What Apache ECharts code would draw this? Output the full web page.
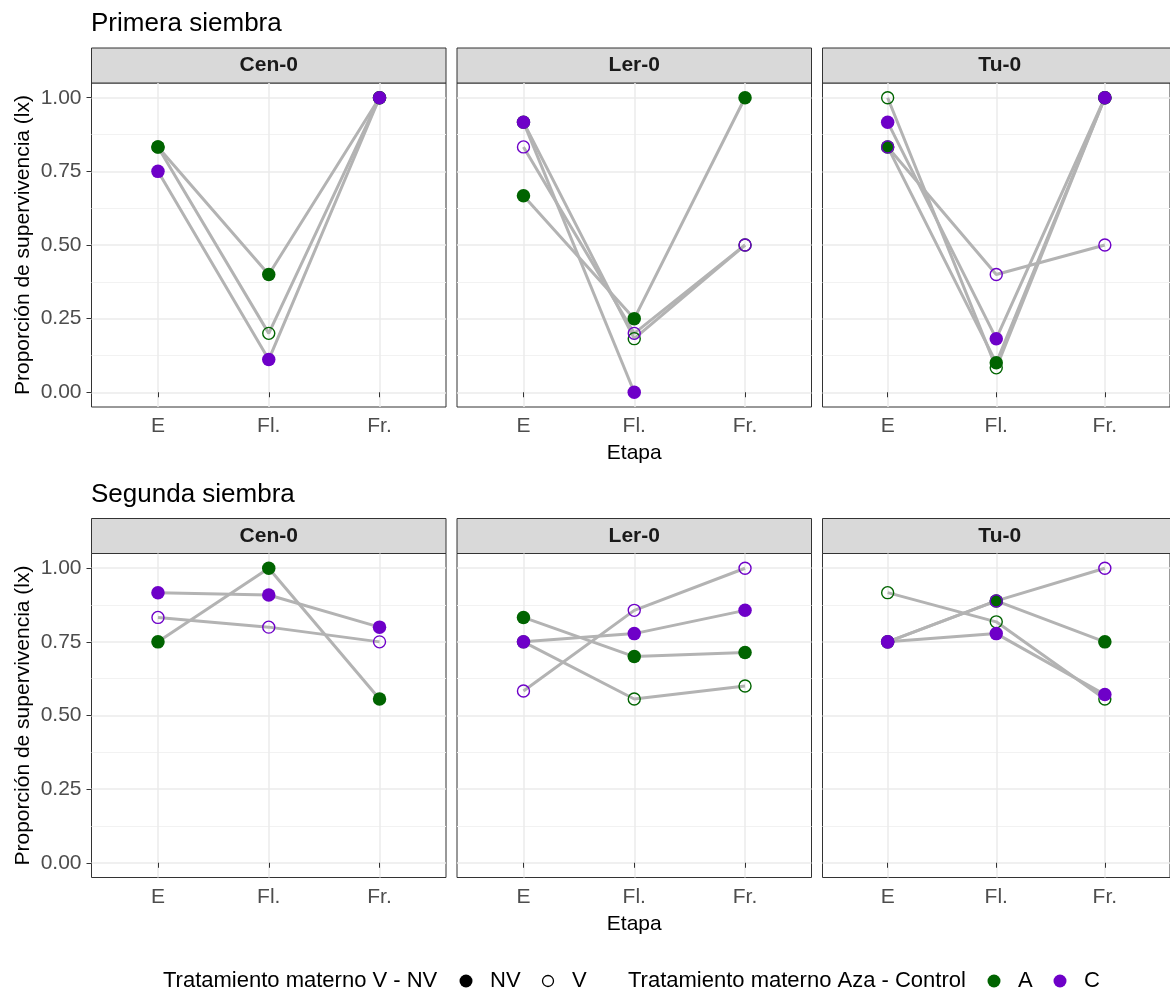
<!DOCTYPE html>
<html>
<head>
<meta charset="utf-8">
<script src="https://cdn.jsdelivr.net/npm/echarts@6/dist/echarts.min.js"></script>
<style>
html, body { margin: 0; padding: 0; background: #fff; }
#chart { width: 1170px; height: 991px; }
</style>
</head>
<body>
<div id="chart"></div>
<script>
// categorias
var etapas = ['E', 'Fl.', 'Fr.'];
var siembras = ['Primera siembra', 'Segunda siembra'];
var ecotipos = ['Cen-0', 'Ler-0', 'Tu-0'];
var grupoAza = ['A', 'A', 'C', 'C'];
var grupoVnv = ['NV', 'V', 'NV', 'V'];
var yTicks = [0, 0.25, 0.5, 0.75, 1];
var yMinor = [0.125, 0.375, 0.625, 0.875];

// proporcion de supervivencia por grupo: A-NV, A-V, C-NV, C-V (E, Fl., Fr.)
var primeraCen0 = [[0.833, 0.4, 1.0], [0.833, 0.2, 1.0], [0.75, 0.111, 1.0], null];
var primeraLer0 = [[0.667, 0.25, 1.0], [0.917, 0.182, 0.5], [0.917, 0.0, null], [0.833, 0.2, 0.5]];
var primeraTu0 = [[0.833, 0.1, 1.0], [1.0, 0.083, 1.0], [0.917, 0.182, 1.0], [0.833, 0.4, 0.5]];
var segundaCen0 = [[0.75, 1.0, 0.556], null, [0.917, 0.909, 0.8], [0.833, 0.8, 0.75]];
var segundaLer0 = [[0.833, 0.7, 0.714], [0.75, 0.556, 0.6], [0.75, 0.778, 0.857], [0.583, 0.857, 1.0]];
var segundaTu0 = [[0.75, 0.889, 0.75], [0.917, 0.818, 0.556], [0.75, 0.778, 0.571], [0.75, 0.889, 1.0]];

var datos = [[primeraCen0, primeraLer0, primeraTu0], [segundaCen0, segundaLer0, segundaTu0]];

var colAza = { A: '#006400', C: '#6e00c8' };
var fuente = 'Liberation Sans, Arial, sans-serif';

var panelLeft = [91.5, 457, 822.5];
var panelTop = [83, 553.5];
var panelW = 354.5, panelH = 324, stripH = 35;

var grids = [], xAxes = [], yAxes = [], lineas = [], puntos = [], graficos = [];

for (var r = 0; r < 2; r++) {
    graficos.push({
        type: 'text', left: 91, top: panelTop[r] - stripH - 37,
        style: { text: siembras[r], font: '26px ' + fuente, fill: '#000' }
    });
    for (var c = 0; c < 3; c++) {
        var k = r * 3 + c;
        grids.push({
            left: panelLeft[c], top: panelTop[r], width: panelW, height: panelH,
            show: true, borderColor: '#333', borderWidth: 1, backgroundColor: '#fff'
        });
        xAxes.push({
            gridIndex: k, type: 'value', min: 0.4, max: 3.6,
            axisLine: { show: false },
            axisTick: { show: true, length: 5, customValues: [1, 2, 3], lineStyle: { color: '#333', width: 1 } },
            axisLabel: {
                customValues: [1, 2, 3], margin: 9, fontSize: 21, color: '#4d4d4d', fontFamily: fuente,
                formatter: function (v) { return etapas[Math.round(v) - 1]; }
            },
            splitLine: { show: true, lineStyle: { color: '#ebebeb', width: 1.5 } },
            name: c === 1 ? 'Etapa' : '', nameLocation: 'middle', nameGap: 36,
            nameTextStyle: { fontSize: 21, color: '#000', fontFamily: fuente }
        });
        yAxes.push({
            gridIndex: k, type: 'value', min: -0.05, max: 1.05,
            axisLine: { show: false },
            axisTick: { show: c === 0, length: 5, customValues: yTicks, lineStyle: { color: '#333', width: 1 } },
            axisLabel: {
                show: c === 0, customValues: yTicks, margin: 10, fontSize: 21, color: '#4d4d4d', fontFamily: fuente,
                formatter: function (v) { return v.toFixed(2); }
            },
            splitLine: { show: true, lineStyle: { color: '#ebebeb', width: 1.5 } },
            name: c === 0 ? 'Proporción de supervivencia (lx)' : '', nameLocation: 'middle', nameGap: 58,
            nameTextStyle: { fontSize: 21, color: '#000', fontFamily: fuente }
        });
        // lineas menores
        yAxes.push({
            gridIndex: k, type: 'value', min: -0.05, max: 1.05, position: 'left',
            axisLine: { show: false },
            axisTick: { show: false, customValues: yMinor },
            axisLabel: { show: false },
            splitLine: { show: true, lineStyle: { color: '#f2f2f2', width: 1 } }
        });

        // tira del panel
        graficos.push({
            type: 'rect', shape: { x: panelLeft[c], y: panelTop[r] - stripH, width: panelW, height: stripH },
            style: { fill: '#d9d9d9', stroke: '#333', lineWidth: 1 }
        });
        graficos.push({
            type: 'text', x: panelLeft[c] + panelW / 2, y: panelTop[r] - stripH / 2,
            style: { text: ecotipos[c], font: 'bold 21px ' + fuente, fill: '#1a1a1a', align: 'center', verticalAlign: 'middle' }
        });

        var panel = datos[r][c];
        for (var g = 0; g < 4; g++) {
            if (!panel[g]) continue;
            var pts = [];
            panel[g].forEach(function (v, i) { if (v !== null) pts.push([i + 1, v]); });
            lineas.push({
                type: 'line', name: grupoAza[g] + '-' + grupoVnv[g], xAxisIndex: k, yAxisIndex: 2 * k,
                data: pts, showSymbol: false, silent: true, z: 2,
                lineStyle: { color: '#b3b3b3', width: 3 }
            });
            var col = colAza[grupoAza[g]];
            var lleno = grupoVnv[g] === 'NV';
            puntos.push({
                type: 'scatter', name: grupoAza[g] + '-' + grupoVnv[g], xAxisIndex: k, yAxisIndex: 2 * k,
                data: pts, symbol: 'circle', symbolSize: lleno ? 13.5 : 12, silent: true, z: 3,
                itemStyle: lleno ? { color: col, opacity: 1 }
                    : { color: 'rgba(0,0,0,0)', borderColor: col, borderWidth: 1.4, opacity: 1 }
            });
        }
    }
}

// leyenda
var ly = 981;
var leyenda = [
    { t: 'Tratamiento materno V - NV', x: 163 },
    { dot: '#000', hollow: false, x: 466 }, { t: 'NV', x: 490 },
    { dot: '#000', hollow: true, x: 548 }, { t: 'V', x: 572 },
    { t: 'Tratamiento materno Aza - Control', x: 628 },
    { dot: colAza.A, hollow: false, x: 994 }, { t: 'A', x: 1018 },
    { dot: colAza.C, hollow: false, x: 1060 }, { t: 'C', x: 1084 }
];
leyenda.forEach(function (e) {
    if (e.t) {
        graficos.push({ type: 'text', x: e.x, y: ly,
            style: { text: e.t, font: '22px ' + fuente, fill: '#000', verticalAlign: 'middle' } });
    } else {
        graficos.push({ type: 'circle', shape: { cx: e.x, cy: ly, r: e.hollow ? 5.5 : 6.5 },
            style: e.hollow ? { fill: 'none', stroke: e.dot, lineWidth: 1.3 } : { fill: e.dot } });
    }
});

var chart = echarts.init(document.getElementById('chart'));
chart.setOption({
    animation: false,
    backgroundColor: '#fff',
    textStyle: { fontFamily: fuente },
    grid: grids,
    xAxis: xAxes,
    yAxis: yAxes,
    series: lineas.concat(puntos),
    graphic: graficos
});
</script>
</body>
</html>
